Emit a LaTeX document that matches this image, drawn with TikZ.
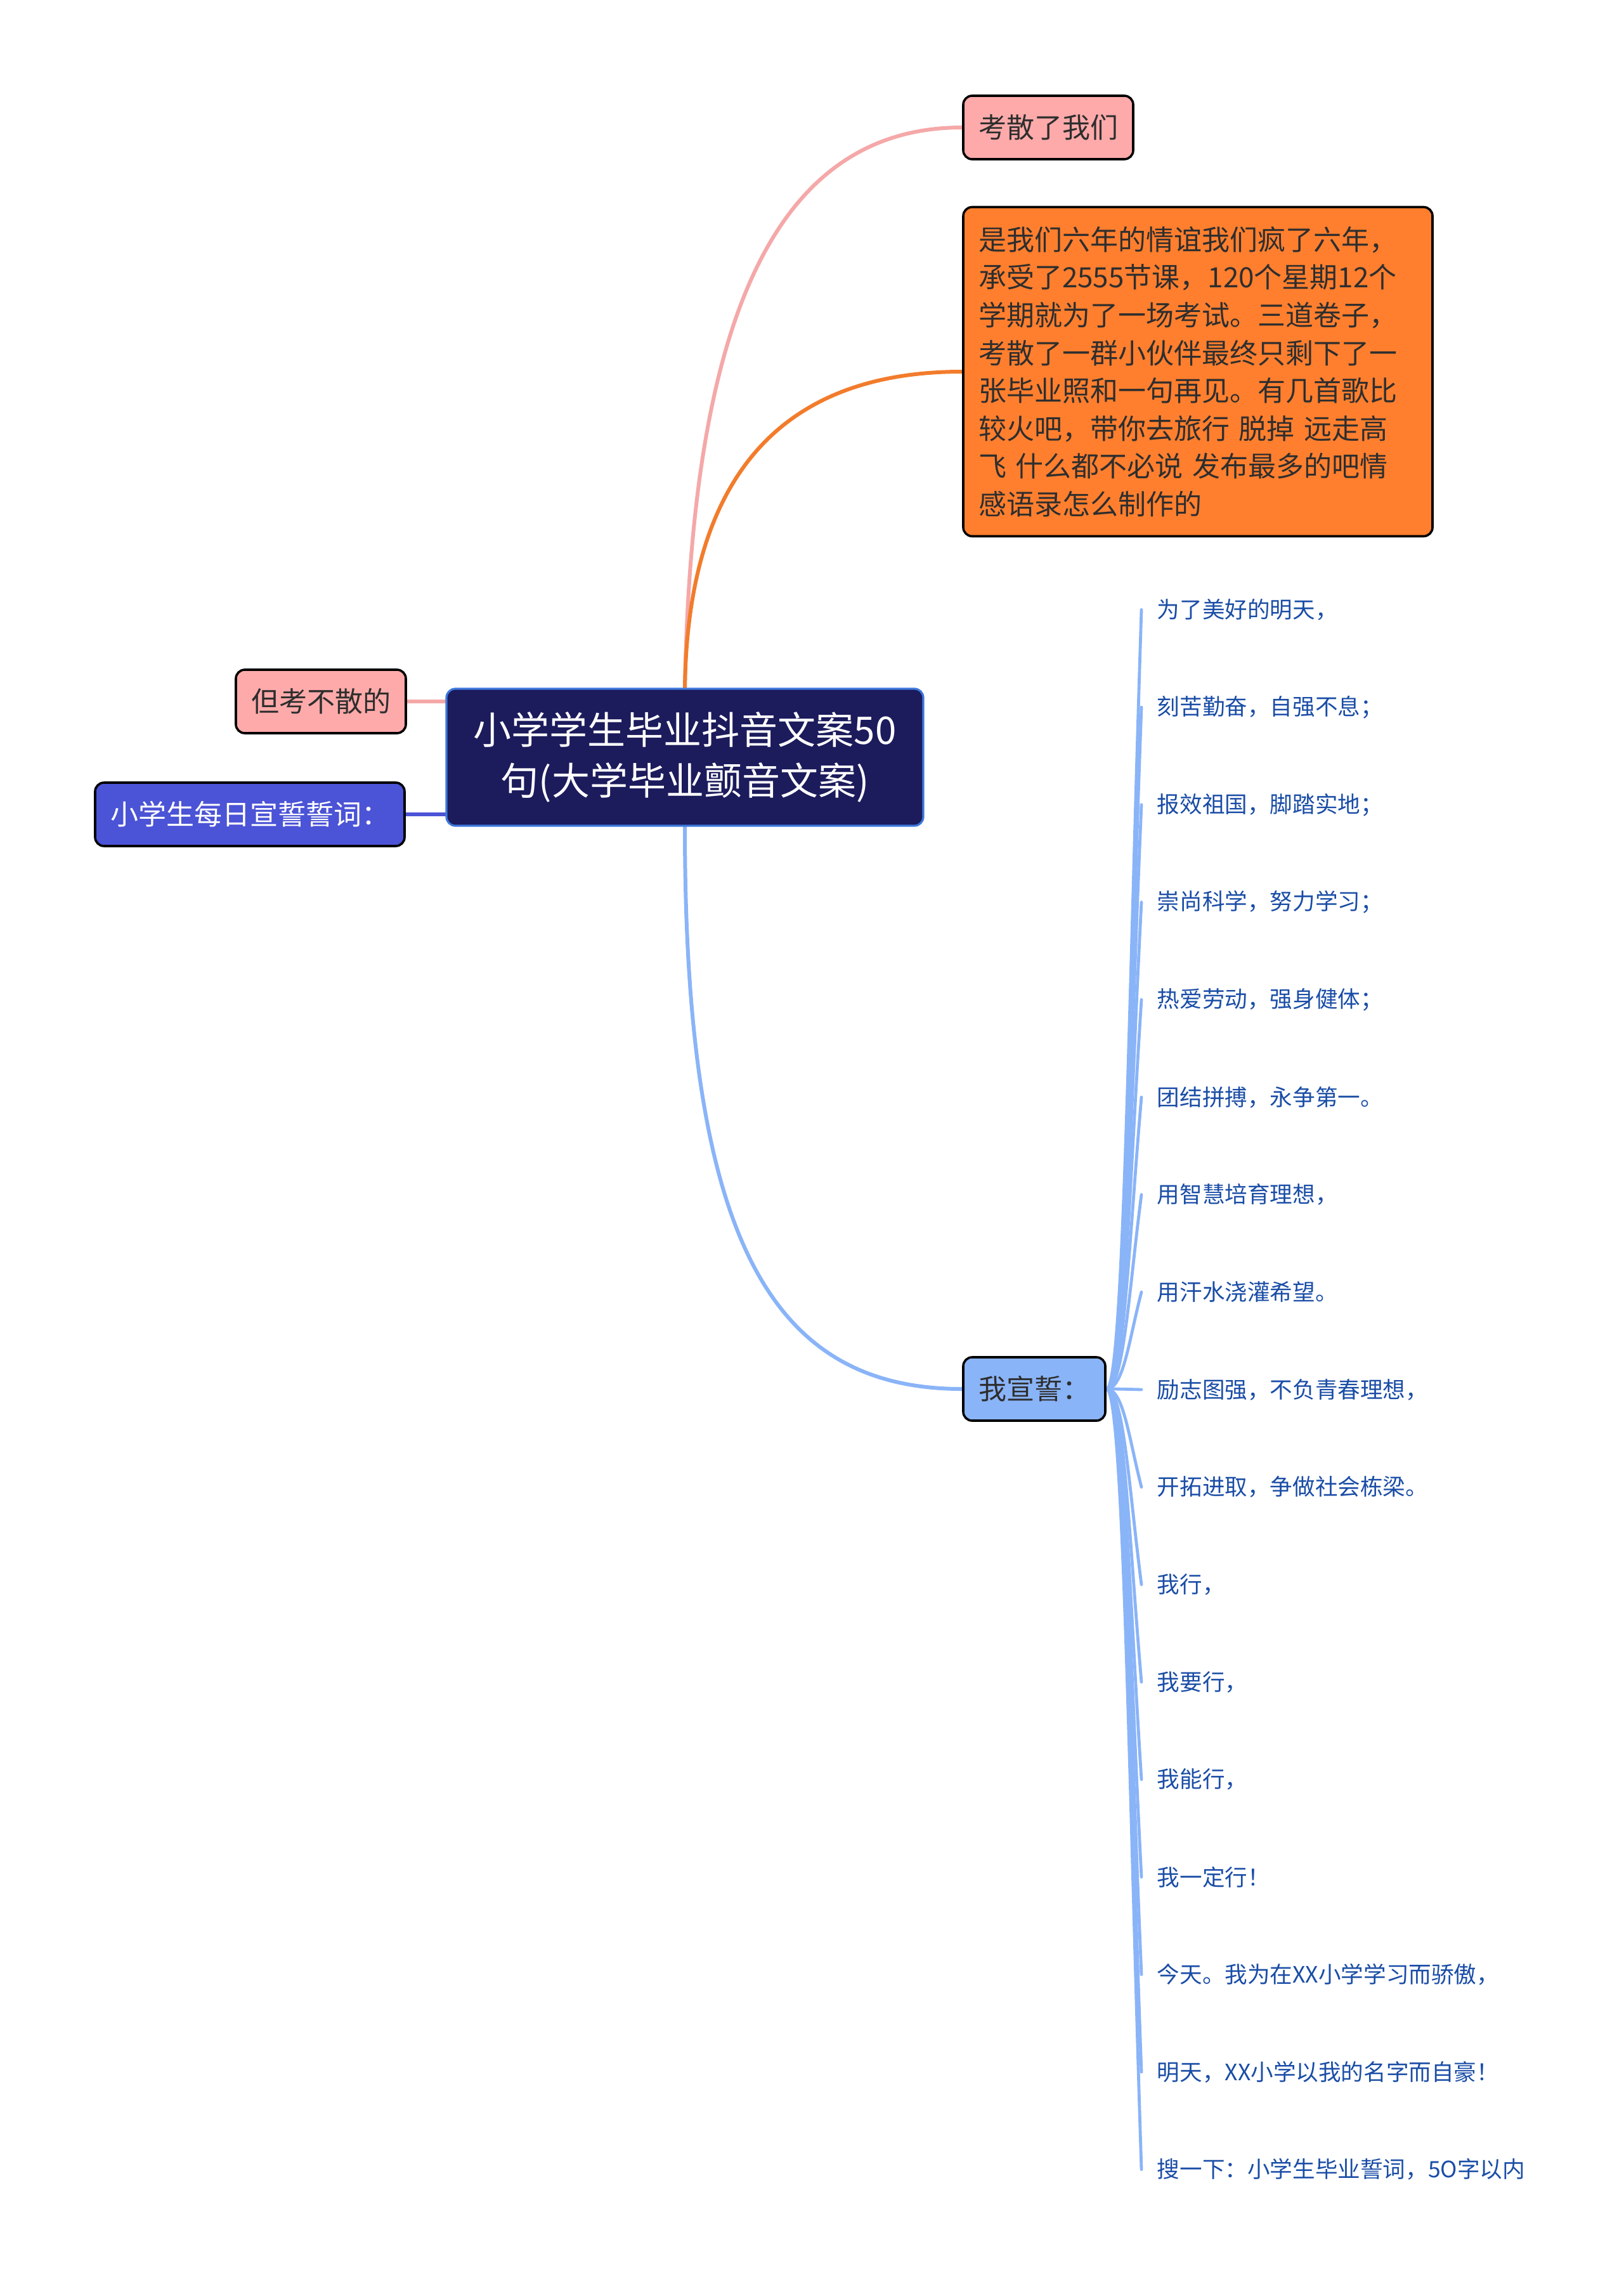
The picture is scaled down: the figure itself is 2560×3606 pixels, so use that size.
\documentclass[tikz,border=0pt]{standalone}
\usepackage{fontspec}
\setmainfont{Noto Sans CJK SC}
\usetikzlibrary{backgrounds}
\definecolor{nodeText}{HTML}{2E2E2E}
\definecolor{rosePink}{HTML}{FFAAAA}
\definecolor{roseLine}{HTML}{F5A8A8}
\definecolor{tangerine}{HTML}{FF7F2E}
\definecolor{tangerineLine}{HTML}{F27C2C}
\definecolor{navyFill}{HTML}{1C1B5C}
\definecolor{navyBorder}{HTML}{3D78DC}
\definecolor{violetFill}{HTML}{4B53D6}
\definecolor{skyBlue}{HTML}{8AB4F8}
\definecolor{leafBlue}{HTML}{1A4DA6}

\begin{document}
\begin{tikzpicture}[
  x=0.25pt, y=-0.25pt,
  topic/.style={
    draw=black,
    text=nodeText,
    rounded corners=3.5pt,
    line width=0.9pt,
    inner xsep=6pt,
    inner ysep=0pt,
    minimum height=25pt,
    font=\fontsize{11}{14.9}\selectfont
  },
  pinktopic/.style={topic, fill=rosePink},
  note/.style={topic, fill=tangerine, text width=173pt, align=left,
    minimum height=129.75pt},
  pledgetopic/.style={topic, fill=violetFill, text=white},
  hubtopic/.style={topic, fill=skyBlue},
  root/.style={
    draw=navyBorder,
    fill=navyFill,
    text=white,
    rounded corners=3.5pt,
    line width=0.8pt,
    align=center,
    minimum width=188pt,
    minimum height=54pt,
    font=\fontsize{15}{20}\selectfont
  },
  leaf/.style={text=leafBlue, anchor=west, inner xsep=6pt,
    font=\fontsize{8.9}{11}\selectfont},
  branch/.style={line width=1.5pt, line cap=round},
  leafline/.style={draw=skyBlue, line width=1.2pt, line cap=round}
]
\useasboundingbox (0,0) rectangle (2560,3606);

\node[root] (title) at (1080,1194) {小学学生毕业抖音文案50\\句(大学毕业颤音文案)};

\node[pinktopic] (kaosan) at (1653,201) {考散了我们};
\node[note] (story) at (1889,586) {是我们六年的情谊我们疯了六年，\\承受了2555节课，120个星期12个\\学期就为了一场考试。三道卷子，\\考散了一群小伙伴最终只剩下了一\\张毕业照和一句再见。有几首歌比\\较火吧，带你去旅行 脱掉 远走高\\飞 什么都不必说 发布最多的吧情\\感语录怎么制作的};
\node[pinktopic] (bukaosan) at (506,1106) {但考不散的};
\node[pledgetopic] (daily) at (394,1284) {小学生每日宣誓誓词：};
\node[hubtopic] (hub) at (1631,2190) {我宣誓：};

% Pledge lines fanned out to the right of the hub.
\foreach \txt [count=\i from 0] in {为了美好的明天，, 刻苦勤奋，自强不息；,
    报效祖国，脚踏实地；, 崇尚科学，努力学习；, 热爱劳动，强身健体；,
    团结拼搏，永争第一。, 用智慧培育理想，, 用汗水浇灌希望。,
    励志图强，不负青春理想，, 开拓进取，争做社会栋梁。, 我行，, 我要行，,
    我能行，, 我一定行！, 今天。我为在XX小学学习而骄傲，,
    明天，XX小学以我的名字而自豪！, 搜一下：小学生毕业誓词，5O字以内} {
  \pgfmathsetmacro{\ly}{961.4+153.7*\i}
  \pgfmathsetmacro{\dy}{(2190-\ly)/2}
  \node[leaf] (leaf\i) at (1800,\ly) {\txt};
  \begin{scope}[on background layer]
    \draw[leafline] (hub.east) .. controls +(27,0) and +(-20,\dy) .. (leaf\i.west);
  \end{scope}
}

% Branches from the title, drawn behind the boxes.
\begin{scope}[on background layer]
  \draw[branch, roseLine] (title.north) .. controls +(10,-526) and +(-320,0) .. (kaosan.west);
  \draw[branch, tangerineLine] (title.north) .. controls +(5,-350) and +(-270,0) .. (story.west);
  \draw[branch, roseLine] (bukaosan.east) -- (bukaosan.east -| title.west);
  \draw[branch, violetFill] (daily.east) -- (daily.east -| title.west);
  \draw[branch, skyBlue] (title.south) .. controls +(0,653) and +(-300,0) .. (hub.west);
\end{scope}

\end{tikzpicture}
\end{document}
